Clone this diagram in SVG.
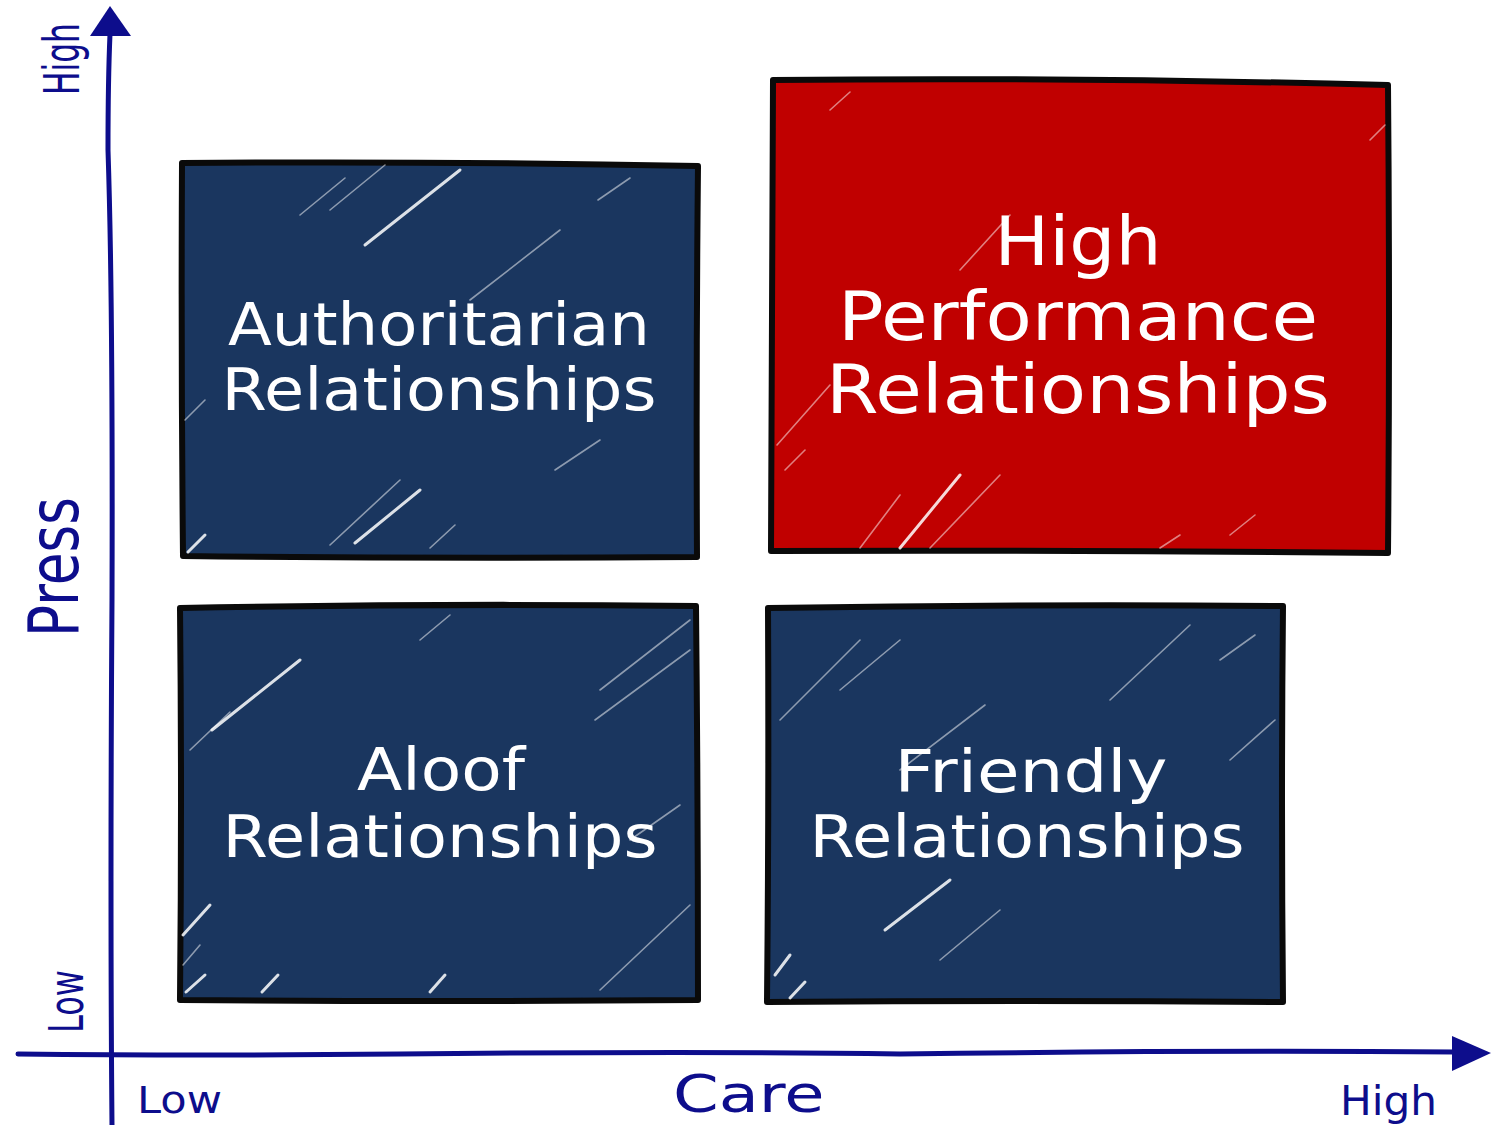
<svg xmlns="http://www.w3.org/2000/svg" width="1509" height="1125" viewBox="0 0 1509 1125">
<style>
.box{stroke:#0a0a0a;stroke-width:6;stroke-linejoin:round}
.blue{fill:#1a365f}
.red{fill:#c00000}
.streak{stroke:#ffffff;stroke-linecap:round;fill:none}
.s1{stroke-width:3;opacity:0.85}
.s2{stroke-width:1.6;opacity:0.5}
.lbl{font-family:"DejaVu Sans","Liberation Sans",sans-serif;fill:#ffffff;text-anchor:middle}
.ax{font-family:"DejaVu Sans","Liberation Sans",sans-serif;fill:#0d0d8c}
.axis{stroke:#0d0d8c;stroke-width:5;fill:none;stroke-linecap:round}
</style>
<rect width="1509" height="1125" fill="#ffffff"/>

<g id="node-authoritarian">
<path class="box blue" d="M182,163 Q440,161 698,166 Q696,360 697,557 Q440,559 183,556 Q181,360 182,163 Z"/>
<path class="streak s1" d="M365,245 L460,170"/>
<path class="streak s2" d="M300,215 L345,178"/>
<path class="streak s2" d="M330,210 L385,165"/>
<path class="streak s2" d="M598,200 L630,178"/>
<path class="streak s2" d="M185,420 L205,400"/>
<path class="streak s2" d="M330,545 L400,480"/>
<path class="streak s1" d="M355,543 L420,490"/>
<path class="streak s1" d="M188,552 L205,535"/>
<path class="streak s2" d="M430,548 L455,525"/>
<path class="streak s2" d="M555,470 L600,440"/>
<path class="streak s2" d="M470,300 L560,230"/>
</g>

<g id="node-high-performance">
<path class="box red" d="M773,80 Q1080,77 1388,85 Q1390,320 1388,553 Q1080,550 771,551 Q772,320 773,80 Z"/>
<path class="streak s2" d="M830,110 L850,92"/>
<path class="streak s2" d="M1370,140 L1385,125"/>
<path class="streak s2" d="M777,445 L830,385"/>
<path class="streak s2" d="M785,470 L805,450"/>
<path class="streak s2" d="M860,548 L900,495"/>
<path class="streak s1" d="M900,548 L960,475"/>
<path class="streak s2" d="M930,548 L1000,475"/>
<path class="streak s2" d="M1160,548 L1180,535"/>
<path class="streak s2" d="M1230,535 L1255,515"/>
<path class="streak s2" d="M960,270 L1010,215"/>
</g>

<g id="node-aloof">
<path class="box blue" d="M180,608 Q440,603 696,606 Q698,800 698,1000 Q440,1002 180,1000 Q182,800 180,608 Z"/>
<path class="streak s1" d="M212,730 L300,660"/>
<path class="streak s2" d="M190,750 L230,712"/>
<path class="streak s2" d="M420,640 L450,615"/>
<path class="streak s2" d="M600,690 L690,620"/>
<path class="streak s2" d="M595,720 L690,650"/>
<path class="streak s1" d="M183,935 L210,905"/>
<path class="streak s2" d="M183,965 L200,945"/>
<path class="streak s1" d="M186,992 L205,975"/>
<path class="streak s1" d="M262,992 L278,975"/>
<path class="streak s1" d="M430,992 L445,975"/>
<path class="streak s2" d="M600,990 L690,905"/>
<path class="streak s2" d="M630,840 L680,805"/>
</g>

<g id="node-friendly">
<path class="box blue" d="M768,608 Q1025,604 1283,606 Q1281,800 1283,1002 Q1025,1000 767,1002 Q769,800 768,608 Z"/>
<path class="streak s2" d="M780,720 L860,640"/>
<path class="streak s2" d="M840,690 L900,640"/>
<path class="streak s2" d="M1110,700 L1190,625"/>
<path class="streak s2" d="M1220,660 L1255,635"/>
<path class="streak s2" d="M900,770 L985,705"/>
<path class="streak s1" d="M885,930 L950,880"/>
<path class="streak s2" d="M940,960 L1000,910"/>
<path class="streak s1" d="M775,975 L790,955"/>
<path class="streak s1" d="M790,998 L805,982"/>
<path class="streak s2" d="M1230,760 L1275,720"/>
</g>

<g id="connectors">
<path class="axis" d="M112,1125 Q110,900 112,600 Q113,300 108,150 Q108,80 110,34"/>
<path d="M110,6 L131,36 L90,36 Z" fill="#0d0d8c"/>
<path class="axis" d="M18,1054 Q200,1056 400,1054 Q700,1051 900,1054 Q1200,1050 1455,1052"/>
<path d="M1491,1053 L1452,1036 L1452,1071 Z" fill="#0d0d8c"/>
</g>

<g id="labels-boxes">
<text class="lbl" font-size="58" x="439" y="345" textLength="422" lengthAdjust="spacingAndGlyphs">Authoritarian</text>
<text class="lbl" font-size="58" x="439" y="410" textLength="435" lengthAdjust="spacingAndGlyphs">Relationships</text>
<text class="lbl" font-size="68" x="1078" y="265" textLength="167" lengthAdjust="spacingAndGlyphs">High</text>
<text class="lbl" font-size="68" x="1078" y="340" textLength="480" lengthAdjust="spacingAndGlyphs">Performance</text>
<text class="lbl" font-size="68" x="1078" y="413" textLength="504" lengthAdjust="spacingAndGlyphs">Relationships</text>
<text class="lbl" font-size="58" x="441" y="790" textLength="168" lengthAdjust="spacingAndGlyphs">Aloof</text>
<text class="lbl" font-size="58" x="440" y="857" textLength="435" lengthAdjust="spacingAndGlyphs">Relationships</text>
<text class="lbl" font-size="58" x="1031" y="792" textLength="273" lengthAdjust="spacingAndGlyphs">Friendly</text>
<text class="lbl" font-size="58" x="1027" y="857" textLength="435" lengthAdjust="spacingAndGlyphs">Relationships</text>
</g>

<g id="labels-axes">
<text class="ax" font-size="50" transform="translate(79,95) rotate(-90) scale(0.626,1)">High</text>
<text class="ax" font-size="70" transform="translate(78,637) rotate(-90)" textLength="140" lengthAdjust="spacingAndGlyphs">Press</text>
<text class="ax" font-size="48" transform="translate(83,1033) rotate(-90)" textLength="63" lengthAdjust="spacingAndGlyphs">Low</text>
<text class="ax" font-size="38" x="137" y="1113" textLength="85" lengthAdjust="spacingAndGlyphs">Low</text>
<text class="ax" font-size="52" transform="translate(673,1112) scale(1.26,1)">Care</text>
<text class="ax" font-size="41" x="1340" y="1115" textLength="97" lengthAdjust="spacingAndGlyphs">High</text>
</g>
</svg>
